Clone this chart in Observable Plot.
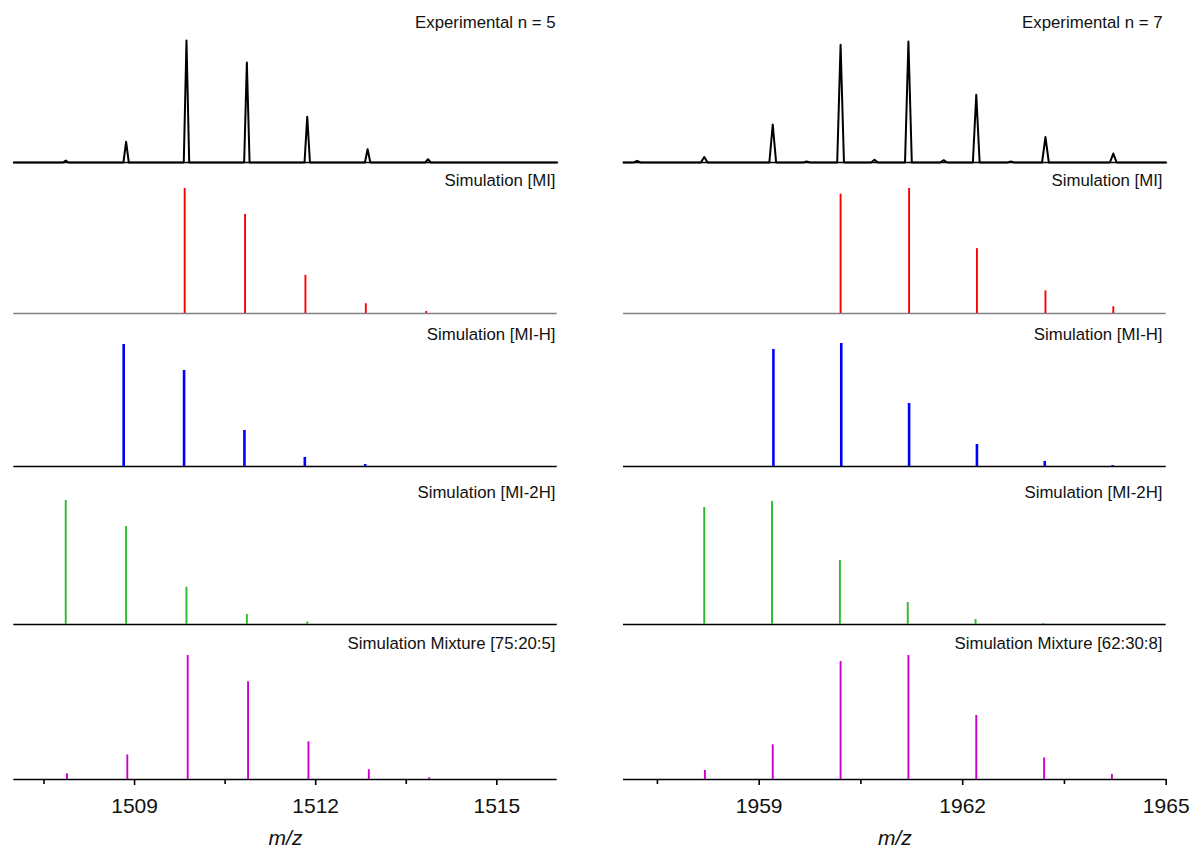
<!DOCTYPE html>
<html><head><meta charset="utf-8">
<script src="https://cdn.jsdelivr.net/npm/d3@7"></script>
<script src="https://cdn.jsdelivr.net/npm/@observablehq/plot@0.6"></script>
<style>
body{margin:0;background:#fff;}
#root{position:relative;width:1195px;height:852px;overflow:hidden;font-family:"Liberation Sans",Arial,sans-serif;}
</style></head><body><div id="root"></div>
<script>
// ---------- DATA ----------
// Left column (n = 5)
const leftDomain = [1507, 1516];
const leftMajorTicks = [1509, 1512, 1515];
const leftMinorTicks = [1507.5, 1510.5, 1513.5];
const leftLabels = ["Experimental n = 5", "Simulation [MI]", "Simulation [MI-H]", "Simulation [MI-2H]", "Simulation Mixture [75:20:5]"];

const leftExpMz  = [1507.86, 1508.86, 1509.86, 1510.86, 1511.86, 1512.86, 1513.86];
const leftExpInt = [0.016, 0.17, 1.0, 0.82, 0.376, 0.108, 0.027];
const leftMIMz   = [1509.83, 1510.83, 1511.83, 1512.83, 1513.83];
const leftMIInt  = [1.0, 0.792, 0.305, 0.078, 0.016];
const leftMIHMz  = [1508.82, 1509.82, 1510.82, 1511.82, 1512.82];
const leftMIHInt = [1.0, 0.787, 0.295, 0.074, 0.016];
const leftMI2HMz  = [1507.86, 1508.86, 1509.86, 1510.86, 1511.86];
const leftMI2HInt = [1.0, 0.79, 0.30, 0.08, 0.02];
const leftMixMz  = [1507.88, 1508.88, 1509.88, 1510.88, 1511.88, 1512.88, 1513.88];
const leftMixInt = [0.046, 0.198, 1.0, 0.788, 0.304, 0.079, 0.014];

// Right column (n = 7)
const rightDomain = [1957, 1965];
const rightMajorTicks = [1959, 1962, 1965];
const rightMinorTicks = [1957.5, 1960.5, 1963.5];
const rightLabels = ["Experimental n = 7", "Simulation [MI]", "Simulation [MI-H]", "Simulation [MI-2H]", "Simulation Mixture [62:30:8]"];

const rightExpMz  = [1957.20, 1958.19, 1959.20, 1959.70, 1960.20, 1960.70, 1961.20, 1961.72, 1962.20, 1962.71, 1963.22, 1964.22];
const rightExpInt = [0.014, 0.046, 0.313, 0.008, 0.973, 0.022, 1.0, 0.019, 0.559, 0.008, 0.21, 0.074];
const rightMIMz   = [1960.20, 1961.21, 1962.21, 1963.22, 1964.22];
const rightMIInt  = [0.954, 1.0, 0.519, 0.181, 0.054];
const rightMIHMz  = [1959.21, 1960.21, 1961.21, 1962.21, 1963.21, 1964.21];
const rightMIHInt = [0.951, 1.0, 0.512, 0.179, 0.041, 0.008];
const rightMI2HMz  = [1958.19, 1959.19, 1960.19, 1961.19, 1962.19, 1963.19];
const rightMI2HInt = [0.951, 1.0, 0.52, 0.179, 0.04, 0.008];
const rightMixMz  = [1958.20, 1959.20, 1960.20, 1961.20, 1962.20, 1963.20, 1964.20];
const rightMixInt = [0.073, 0.28, 0.951, 1.0, 0.516, 0.174, 0.041];

const seriesColors = ["#000000", "#ff0000", "#0000ff", "#2db82d", "#cc00cc"];
const baselineColors = ["#000000", "#808080", "#000000", "#000000", "#000000"];

// ---------- LAYOUT ----------
const baselines = [162, 313, 466, 624, 779];
const labelOffsets = [140, 133, 132, 132, 136];
const columns = [
  {left: 0, width: 600, mL: 13.3, mR: 43.3, labelRight: 555, maxPx: [122, 125, 122, 124, 124],
   domain: leftDomain, major: leftMajorTicks, minor: leftMinorTicks, labels: leftLabels,
   exp: [leftExpMz, leftExpInt], sims: [[leftMIMz, leftMIInt], [leftMIHMz, leftMIHInt], [leftMI2HMz, leftMI2HInt], [leftMixMz, leftMixInt]], hw: 0.045},
  {left: 600, width: 595, mL: 23, mR: 29.3, labelRight: 1162, maxPx: [121, 125, 123, 123, 124],
   domain: rightDomain, major: rightMajorTicks, minor: rightMinorTicks, labels: rightLabels,
   exp: [rightExpMz, rightExpInt], sims: [[rightMIMz, rightMIInt], [rightMIHMz, rightMIHInt], [rightMI2HMz, rightMI2HInt], [rightMixMz, rightMixInt]], hw: 0.05}
];

const root = document.getElementById("root");

function profile(mz, inten, domain, hw) {
  const pts = [{mz: domain[0], h: 0}];
  mz.forEach((m, i) => { pts.push({mz: m - hw, h: 0}, {mz: m, h: inten[i]}, {mz: m + hw, h: 0}); });
  pts.push({mz: domain[1], h: 0});
  return pts;
}

columns.forEach(col => {
  const frameRight = col.left + col.width - col.mR;
  for (let p = 0; p < 5; p++) {
    const base = baselines[p];
    const maxPx = col.maxPx[p];
    const isBottom = p === 4;
    const svgTop = base - 150;
    const height = isBottom ? 852 - svgTop : 152;
    const mB = height - 150;
    const mT = 150 - maxPx;
    const marks = [];
    marks.push(Plot.ruleY([0], {stroke: baselineColors[p], strokeWidth: 1.5}));
    if (p === 0) {
      marks.push(Plot.line(profile(col.exp[0], col.exp[1], col.domain, col.hw),
        {x: "mz", y: "h", stroke: seriesColors[0], strokeWidth: 2, strokeLinejoin: "round"}));
    } else {
      const [mz, inten] = col.sims[p - 1];
      const data = mz.map((m, i) => ({mz: m, h: inten[i]}));
      marks.push(Plot.ruleX(data, {x: "mz", y1: 0, y2: "h", stroke: seriesColors[p], strokeWidth: p === 2 ? 2.6 : 1.9}));
    }
    marks.push(Plot.text([col.labels[p]], {
      frameAnchor: "top-right", textAnchor: "end", lineAnchor: "middle",
      dx: col.labelRight - frameRight, dy: maxPx - labelOffsets[p],
      fontSize: 16.8, fill: "#111"
    }));
    if (isBottom) {
      marks.push(Plot.axisX(col.minor, {tickSize: 5, strokeWidth: 1.6, stroke: "#000", tickFormat: () => "", label: null}));
      marks.push(Plot.axisX(col.major, {tickSize: 6, tickPadding: 13, strokeWidth: 1.6, stroke: "#000", fill: "#111", fontSize: 21, tickFormat: d => String(d), label: null}));
      marks.push(Plot.text(["m/z"], {frameAnchor: "bottom", lineAnchor: "middle", dy: 59, fontSize: 21, fontStyle: "italic", fill: "#111"}));
    }
    const svg = Plot.plot({
      width: col.width, height,
      marginLeft: col.mL, marginRight: col.mR, marginTop: mT, marginBottom: mB,
      x: {domain: col.domain, axis: null, label: null},
      y: {domain: [0, 1], axis: null, label: null},
      style: {background: "transparent", fontFamily: "'Liberation Sans', Arial, sans-serif", overflow: "visible"},
      marks
    });
    svg.style.position = "absolute";
    svg.style.left = col.left + "px";
    svg.style.top = svgTop + "px";
    svg.style.maxWidth = "none";
    root.appendChild(svg);
  }
});
</script>
</body></html>
